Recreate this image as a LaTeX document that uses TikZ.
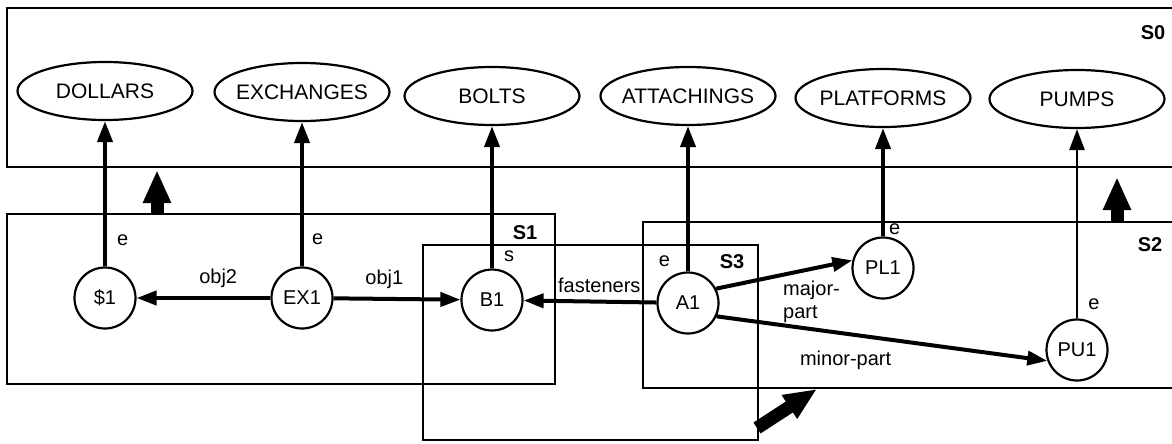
\documentclass[tikz,border=0pt]{standalone}
\usepackage{fontspec}
\setmainfont{Liberation Sans}
\usetikzlibrary{shapes.geometric,arrows.meta}
\begin{document}
\begin{tikzpicture}[x=1pt,y=-1pt,
  ent/.style={ellipse, draw, line width=2.2pt, minimum width=175pt, minimum height=58pt,
              inner xsep=-12pt, inner ysep=0pt, font=\fontsize{21}{24}\selectfont},
  inst/.style={circle, draw, line width=2.2pt, minimum size=61pt, inner sep=0pt,
               font=\fontsize{20}{24}\selectfont},
  arr/.style={line width=4pt, -{Triangle[length=21pt,width=15pt]}},
  thinarr/.style={line width=2.5pt, -{Triangle[length=21pt,width=15pt]}},
  harr/.style={line width=4pt, -{Triangle[length=20pt,width=14pt]}},
  box/.style={line width=2.5pt},
  big/.style={line width=13pt, -{Triangle[length=33pt,width=26pt]}},
  lab/.style={font=\fontsize{20}{23}\selectfont, inner sep=1pt},
  slab/.style={font=\bfseries\fontsize{20}{24}\selectfont, inner sep=0pt}]
\useasboundingbox (0,0) rectangle (1172,444);

% boxes
\draw[box] (1172,8) -- (7,8) -- (7,167) -- (1172,167);
\draw[box] (7,214) rectangle (555,384);
\draw[box] (1172,222) -- (643,222) -- (643,388) -- (1172,388);
\draw[box] (423,245) rectangle (758,440);

\node[slab] (s0) at (1153,33) {S0};
\node[slab] (s1) at (525,233) {S1};
\node[slab] (s3) at (732,262) {S3};
\node[slab] (s2) at (1150,245) {S2};

% entity ellipses
\node[ent] (dollars)    at (105,91)  {DOLLARS};
\node[ent] (exchanges)  at (302,92)  {EXCHANGES};
\node[ent] (bolts)      at (492,96)  {BOLTS};
\node[ent] (attachings) at (688,96)  {ATTACHINGS};
\node[ent] (platforms)  at (883,98)  {PLATFORMS};
\node[ent] (pumps)      at (1077,99) {PUMPS};

% instance circles
\node[inst] (d1)  at (105,298)  {\$1};
\node[inst] (ex1) at (302,298)  {EX1};
\node[inst] (b1)  at (492,300)  {B1};
\node[inst] (a1)  at (688,303)  {A1};
\node[inst] (pl1) at (883,268)  {PL1};
\node[inst] (pu1) at (1077,350) {PU1};

% element-of arrows
\draw[arr] (d1) -- node[lab,pos=0.18,right=9pt] {e} (dollars);
\draw[arr] (ex1) -- node[lab,pos=0.185,right=7pt] {e} (exchanges);
\draw[arr] (b1) -- node[lab,pos=0.087,right=9pt] {s} (bolts);
\draw[arr] (a1) -- node[lab,pos=0.07,left=15pt] {e} (attachings);
\draw[arr] (pl1) -- node[lab,pos=0.07,right=3pt] {e} (platforms);
\draw[thinarr] (pu1) -- node[lab,pos=0.076,right=9pt] {e} (pumps);

% relation arrows
\draw[harr] (ex1) -- node[lab,pos=0.39,above=7pt] {obj2} (d1);
\draw[harr] (ex1) -- node[lab,pos=0.4,above=7pt] {obj1} (b1);
\draw[harr] (a1) -- node[lab,pos=0.43,above=6pt] {fasteners} (b1);
\draw[harr] (a1.27) -- node[lab,pos=0.47,anchor=north west,yshift=-3pt,align=left] {major-\\part} (pl1.166);
\draw[harr] (a1.-25) -- node[lab,pos=0.39,below=14pt] {minor-part} (pu1.200);

% space inheritance arrows
\coordinate (u1) at (157,214);
\coordinate (v1) at (157,170);
\coordinate (u2) at (1117,222);
\coordinate (v2) at (1117,177);
\coordinate (u3) at (757,428);
\coordinate (v3) at (817,389);
\draw[big] (u1) -- (v1);
\draw[big] (u2) -- (v2);
\draw[big] (u3) -- (v3);
\end{tikzpicture}
\end{document}
